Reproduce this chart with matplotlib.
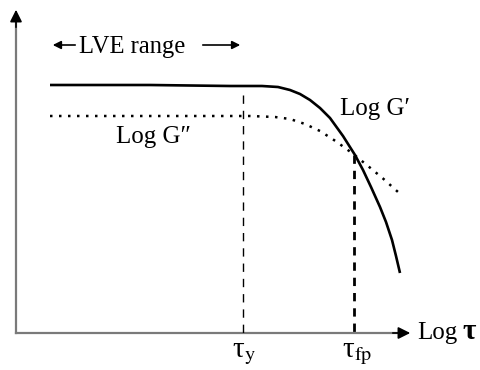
import numpy as np
import matplotlib
matplotlib.use("Agg")
import matplotlib.pyplot as plt

W, H = 481, 370

# schematic curves (x, y in picture units, y measured downward from top)
g1_x = [50, 150, 230, 262, 278, 290, 300, 310, 320, 330, 343, 355, 363,
        371, 380, 386, 392, 396, 400]
g1_y = [85, 85, 86, 86, 87, 90, 94, 100, 108, 118, 136, 155, 170,
        187, 207, 222, 240, 256, 273]
g2_x = [50, 250, 275, 290, 305, 320, 337, 345, 352, 360, 368, 383, 398]
g2_y = [116, 116, 117, 119, 124, 131, 142, 148, 153, 159.5, 166, 178.5, 192]

tau_y = 243
tau_fp = 354
tau_y_top = 95
tau_fp_top = 155
axis_y = 333
axis_x = 16

plt.rcParams['font.family'] = ['Liberation Serif', 'DejaVu Serif']
plt.rcParams['mathtext.fontset'] = 'stix'


def flip(y):
    return H - np.asarray(y, dtype=float)


fig = plt.figure(figsize=(W / 100, H / 100), dpi=100)
ax = fig.add_axes([0, 0, 1, 1])
ax.set_xlim(0, W)
ax.set_ylim(0, H)
ax.axis("off")

# axes with arrows
axc = "#7a7a7a"
ax.plot([axis_x, axis_x], flip([axis_y, 20]), color=axc, lw=1.6)
ax.plot([axis_x, 400], flip([axis_y, axis_y]), color=axc, lw=1.6)
ax.annotate("", xy=(axis_x, flip(7)), xytext=(axis_x, flip(30)),
            arrowprops=dict(arrowstyle="-|>", color="black", lw=1.2,
                            mutation_scale=18))
ax.annotate("", xy=(413, flip(axis_y)), xytext=(390, flip(axis_y)),
            arrowprops=dict(arrowstyle="-|>", color="black", lw=1.2,
                            mutation_scale=18))

# curves
ax.plot(g1_x, flip(g1_y), color="black", lw=1.9, solid_capstyle="butt",
        solid_joinstyle="round")
ax.plot(g2_x, flip(g2_y), color="black", lw=1.8, linestyle=(0, (1.0, 2.6)))

# dashed markers
ax.plot([tau_y, tau_y], flip([tau_y_top, axis_y]), color="black", lw=1.0,
        linestyle=(0, (6, 5)))
ax.plot([tau_fp, tau_fp], flip([tau_fp_top, axis_y]), color="black", lw=2.0,
        linestyle=(0, (3, 2.5)))

# LVE range
ax.text(132, flip(47), "LVE range", fontsize=17.7, ha="center", va="center")
ax.annotate("", xy=(50, flip(45)), xytext=(78, flip(45)),
            arrowprops=dict(arrowstyle="-|>", color="black", lw=1.2,
                            mutation_scale=12))
ax.annotate("", xy=(243, flip(45)), xytext=(200, flip(45)),
            arrowprops=dict(arrowstyle="-|>", color="black", lw=1.2,
                            mutation_scale=12))

# labels
ax.text(340, flip(109), "Log G\u2032", fontsize=18, ha="left", va="center")
ax.text(116, flip(137), "Log G\u2033", fontsize=18, ha="left", va="center")
ax.text(232, flip(357), "\u03c4$_\\mathrm{y}$", fontsize=21, ha="left",
        va="baseline")
ax.text(342, flip(357), "\u03c4$_\\mathrm{fp}$", fontsize=21, ha="left",
        va="baseline")
ax.text(417, flip(339), "Log", fontsize=18, ha="left", va="baseline")
ax.text(462, flip(339), "\u03c4", fontsize=21, fontweight="bold", ha="left",
        va="baseline")

fig.savefig("out.png", dpi=100)
